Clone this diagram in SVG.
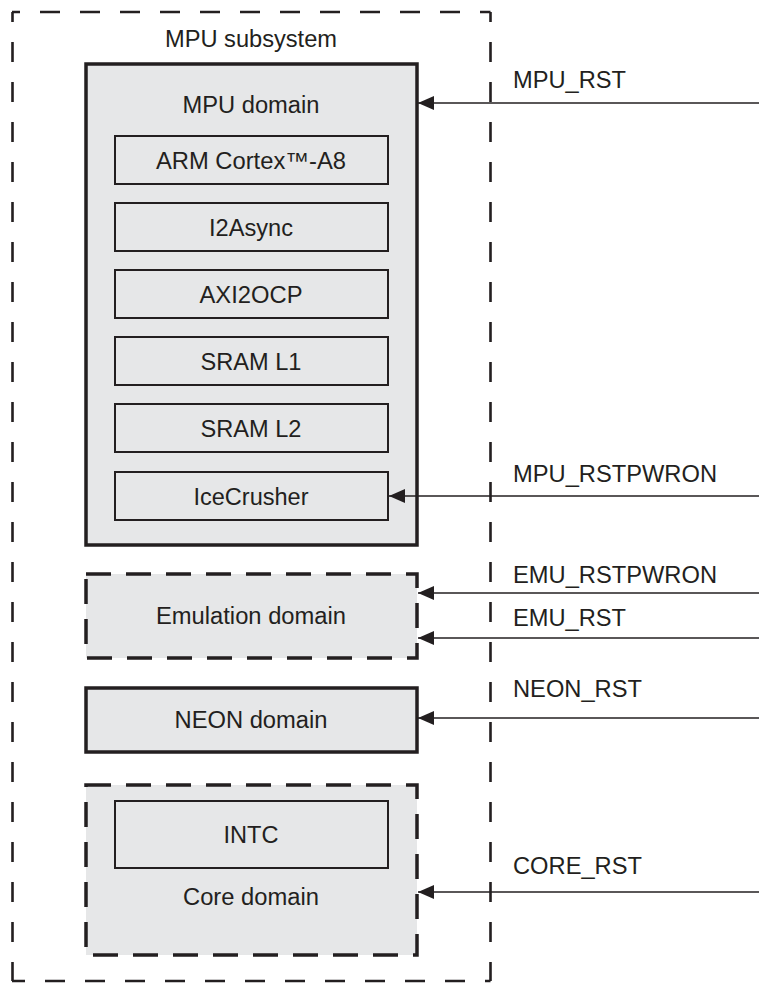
<svg xmlns="http://www.w3.org/2000/svg" width="759" height="984" viewBox="0 0 759 984">
<style>
text{font-family:"Liberation Sans",Arial,sans-serif;font-size:23.5px;fill:#231f20;text-anchor:middle}
.lbl{text-anchor:start}
.dom{fill:#e6e7e8;stroke:#231f20;stroke-width:3.5}
.dash{stroke-dasharray:25 15}
.blk{fill:#e6e7e8;stroke:#231f20;stroke-width:2}
.wire{stroke:#231f20;stroke-width:1.4;fill:none}
.outer{stroke:#231f20;stroke-width:2.6;fill:none;stroke-dasharray:20 20}
</style>
<defs>
<marker id="ah" viewBox="0 0 16 14" refX="16" refY="7" markerWidth="16" markerHeight="14" markerUnits="userSpaceOnUse" orient="auto">
<path d="M0,0 L16,7 L0,14 Z" fill="#231f20"/>
</marker>
</defs>
<rect width="759" height="984" fill="#fff"/>
<g id="mpu-subsystem">
<line class="outer" x1="12" y1="12" x2="490.5" y2="12" stroke-dashoffset="12"/>
<line class="outer" x1="490.5" y1="12" x2="490.5" y2="981" stroke-dashoffset="10"/>
<line class="outer" x1="12.5" y1="12" x2="12.5" y2="981" stroke-dashoffset="10"/>
<line class="outer" x1="12" y1="981" x2="490.5" y2="981" stroke-dashoffset="7"/>
<text x="251" y="47" textLength="172" lengthAdjust="spacingAndGlyphs">MPU subsystem</text>
</g>
<g id="mpu-domain">
<rect class="dom" x="86" y="64" width="331" height="481"/>
<text x="251" y="113" textLength="137" lengthAdjust="spacingAndGlyphs">MPU domain</text>
</g>
<g id="arm"><rect class="blk" x="115" y="136" width="273" height="48"/><text x="251" y="169" textLength="190" lengthAdjust="spacingAndGlyphs">ARM Cortex™-A8</text></g>
<g id="i2async"><rect class="blk" x="115" y="203" width="273" height="48"/><text x="251" y="236" textLength="84" lengthAdjust="spacingAndGlyphs">I2Async</text></g>
<g id="axi2ocp"><rect class="blk" x="115" y="270" width="273" height="48"/><text x="251" y="303" textLength="103" lengthAdjust="spacingAndGlyphs">AXI2OCP</text></g>
<g id="sraml1"><rect class="blk" x="115" y="337" width="273" height="48"/><text x="251" y="370" textLength="101" lengthAdjust="spacingAndGlyphs">SRAM L1</text></g>
<g id="sraml2"><rect class="blk" x="115" y="404" width="273" height="48"/><text x="251" y="437" textLength="101" lengthAdjust="spacingAndGlyphs">SRAM L2</text></g>
<g id="icecrusher"><rect class="blk" x="115" y="472" width="273" height="48"/><text x="251" y="505" textLength="115" lengthAdjust="spacingAndGlyphs">IceCrusher</text></g>
<g id="emu-domain">
<rect class="dom dash" x="86" y="574" width="331" height="84"/>
<text x="251" y="624" textLength="190" lengthAdjust="spacingAndGlyphs">Emulation domain</text>
</g>
<g id="neon-domain">
<rect class="dom" x="86" y="688" width="331" height="64"/>
<text x="251" y="728" textLength="153" lengthAdjust="spacingAndGlyphs">NEON domain</text>
</g>
<g id="core-domain">
<rect class="dom dash" x="86" y="785" width="331" height="170"/>
<text x="251" y="905" textLength="136" lengthAdjust="spacingAndGlyphs">Core domain</text>
</g>
<g id="intc"><rect class="blk" x="115" y="801" width="273" height="67"/><text x="251" y="843" textLength="55" lengthAdjust="spacingAndGlyphs">INTC</text></g>
<g id="connectors">
<line class="wire" x1="759" y1="103" x2="418" y2="103" marker-end="url(#ah)"/>
<line class="wire" x1="759" y1="496" x2="389" y2="496" marker-end="url(#ah)"/>
<line class="wire" x1="759" y1="593" x2="418" y2="593" marker-end="url(#ah)"/>
<line class="wire" x1="759" y1="638" x2="418" y2="638" marker-end="url(#ah)"/>
<line class="wire" x1="759" y1="718" x2="418" y2="718" marker-end="url(#ah)"/>
<line class="wire" x1="759" y1="892" x2="418" y2="892" marker-end="url(#ah)"/>
</g>
<g id="labels">
<text class="lbl" x="513" y="88" textLength="113" lengthAdjust="spacingAndGlyphs">MPU_RST</text>
<text class="lbl" x="513" y="482" textLength="204" lengthAdjust="spacingAndGlyphs">MPU_RSTPWRON</text>
<text class="lbl" x="513" y="583" textLength="204" lengthAdjust="spacingAndGlyphs">EMU_RSTPWRON</text>
<text class="lbl" x="513" y="626" textLength="113" lengthAdjust="spacingAndGlyphs">EMU_RST</text>
<text class="lbl" x="513" y="697" textLength="129" lengthAdjust="spacingAndGlyphs">NEON_RST</text>
<text class="lbl" x="513" y="874" textLength="129" lengthAdjust="spacingAndGlyphs">CORE_RST</text>
</g>
</svg>
